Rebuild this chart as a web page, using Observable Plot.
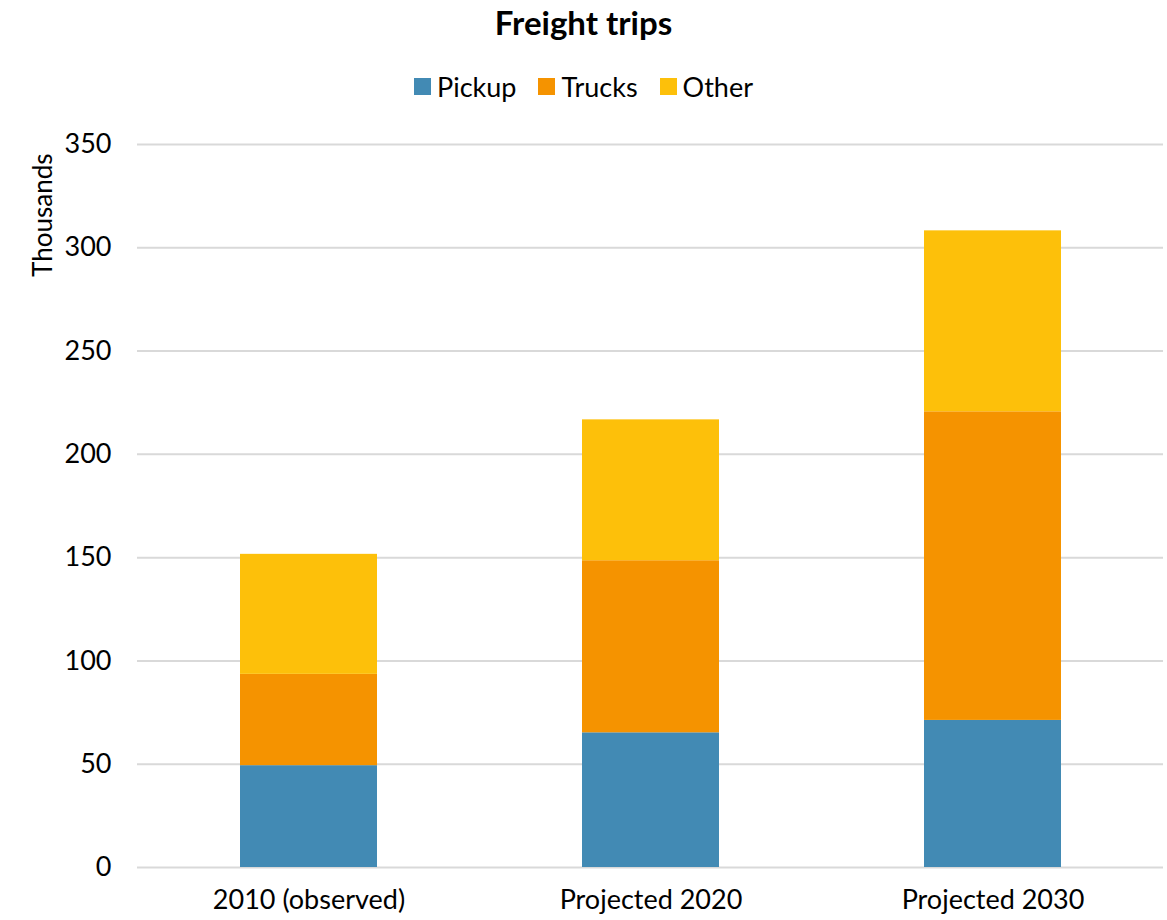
<!DOCTYPE html>
<html>
<head>
<meta charset="utf-8">
<script src="https://cdn.jsdelivr.net/npm/d3@7"></script>
<script src="https://cdn.jsdelivr.net/npm/@observablehq/plot@0.6"></script>
<style>
  html, body { margin: 0; padding: 0; background: #fff; }
  body { width: 1167px; height: 920px; font-family: Lato, "Open Sans", sans-serif; position: relative; overflow: hidden; }
  #title { position: absolute; top: 2px; left: 0; width: 1167px; text-align: center; font-size: 33px; font-weight: bold; color: #000; }
  #legend { position: absolute; top: 70px; left: 0; width: 1167px; display: flex; justify-content: center; gap: 22px; font-size: 27px; color: #000; }
  #legend .item { display: flex; align-items: center; gap: 6px; }
  #legend .sw { width: 17px; height: 17px; display: inline-block; }
  #chart { position: absolute; top: 120px; left: 0; }
</style>
</head>
<body>
<div id="title">Freight trips</div>
<div id="legend"></div>
<div id="chart"></div>
<script>
const categories = ["2010 (observed)", "Projected 2020", "Projected 2030"];
const seriesNames = ["Pickup", "Trucks", "Other"];
const colors = ["#428ab4", "#f59300", "#fdc00a"];
const pickup = [49.3, 65.2, 71.2];
const trucks = [44.2, 83.3, 149.4];
const other = [58.1, 68.2, 87.6];
const yTicks = [0, 50, 100, 150, 200, 250, 300, 350];

const values = [pickup, trucks, other];
const data = [];
seriesNames.forEach((s, si) => categories.forEach((c, ci) => data.push({category: c, series: s, value: values[si][ci]})));

const legend = document.getElementById("legend");
seriesNames.forEach((s, i) => {
  const it = document.createElement("div");
  it.className = "item";
  it.innerHTML = `<span class="sw" style="background:${colors[i]}"></span><span>${s}</span>`;
  legend.appendChild(it);
});

const chart = Plot.plot({
  width: 1167,
  height: 800,
  marginTop: 24,
  marginBottom: 53,
  marginLeft: 137,
  marginRight: 4,
  style: {fontFamily: "Lato, 'Open Sans', sans-serif", fontSize: "26px", color: "#000", background: "#fff"},
  x: {domain: categories, paddingInner: 0.6, paddingOuter: 0.3, label: null},
  y: {domain: [0, 350], label: null},
  color: {domain: seriesNames, range: colors},
  marks: [
    Plot.gridY(yTicks, {stroke: "#d9d9d9", strokeOpacity: 1, strokeWidth: 2}),
    Plot.barY(data, Plot.stackY({x: "category", y: "value", fill: "series", order: seriesNames})),
    Plot.axisY(yTicks, {tickSize: 0, tickPadding: 26, fontSize: 27, label: null}),
    Plot.axisX({tickSize: 0, tickPadding: 22, fontSize: 27, label: null}),
    Plot.text(["Thousands"], {frameAnchor: "top-left", rotate: -90, textAnchor: "end", dx: -104, dy: 9, fontSize: 26, fill: "#000"})
  ]
});
document.getElementById("chart").appendChild(chart);
</script>
</body>
</html>
